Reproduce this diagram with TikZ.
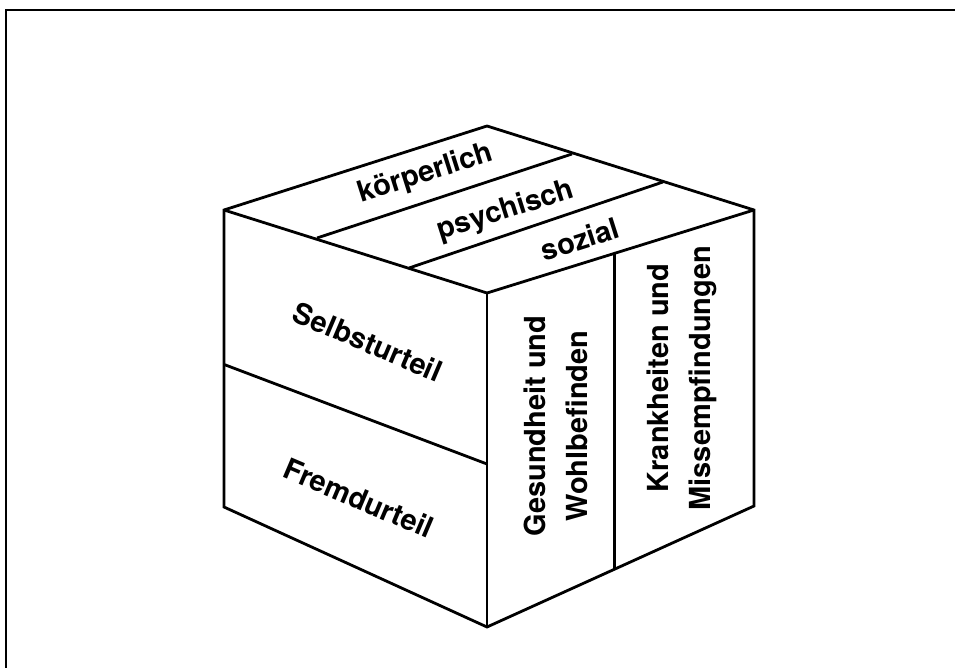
\documentclass[tikz,border=0pt]{standalone}
\usepackage{fontspec}
\setmainfont{TeX Gyre Heros}
\usetikzlibrary{calc}
\begin{document}
\begin{tikzpicture}[x=1pt,y=-1pt,
  edge/.style={line width=2.8pt, line join=miter},
  frame/.style={line width=2pt},
  lbl/.style={font=\fontsize{29}{42}\selectfont\bfseries, inner sep=0pt, align=center}]
\useasboundingbox (0,0) rectangle (955,668);

% outer frame (top and left edges)
\coordinate (fa) at (6,668);
\coordinate (fb) at (6,10);
\coordinate (fc) at (955,10);
\draw[frame] (fa) -- (fb) -- (fc);

% cube corners
\coordinate (T)  at (487,126);
\coordinate (TL) at (224,210);
\coordinate (TR) at (754,210);
\coordinate (F)  at (487,293);
\coordinate (BL) at (224,507);
\coordinate (BR) at (754,506);
\coordinate (BF) at (487,627);

% division points
\coordinate (t1l) at (317,238);
\coordinate (t1r) at (572,154);
\coordinate (t2l) at (409,268);
\coordinate (t2r) at (663,182);
\coordinate (rt) at ($(F)!0.476!(TR)$);
\coordinate (rb) at ($(BF)!0.476!(BR)$);
\coordinate (ll) at ($(TL)!0.52!(BL)$);
\coordinate (lr) at ($(F)!0.512!(BF)$);

% cube outline and inner edges
\draw[edge] (TL) -- (T) -- (TR) -- (BR) -- (BF) -- (BL) -- cycle;
\draw[edge] (TL) -- (F) -- (TR);
\draw[edge] (F) -- (BF);

% subdivisions
\draw[edge] (t1l) -- (t1r);
\draw[edge] (t2l) -- (t2r);
\draw[edge] (rt) -- (rb);
\draw[edge] (ll) -- (lr);

% labels on the top face
\node[lbl, rotate=17.6] (koerper) at (426,174) {körperlich};
\node[lbl, rotate=17.6] (psych) at (506,211) {psychisch};
\node[lbl, rotate=17.6] (sozial) at (580,239) {sozial};

% labels on the left face
\node[lbl, rotate=-23] (selbst) at (368,342) {Selbsturteil};
\node[lbl, rotate=-23] (fremd) at (359,498) {Fremdurteil};

% labels on the right face
\node[lbl, rotate=90] (gesund) at (556,426) {Gesundheit und\\Wohlbefinden};
\node[lbl, rotate=90] (krank) at (682,378) {Krankheiten und\\Missempfindungen};
\end{tikzpicture}
\end{document}
